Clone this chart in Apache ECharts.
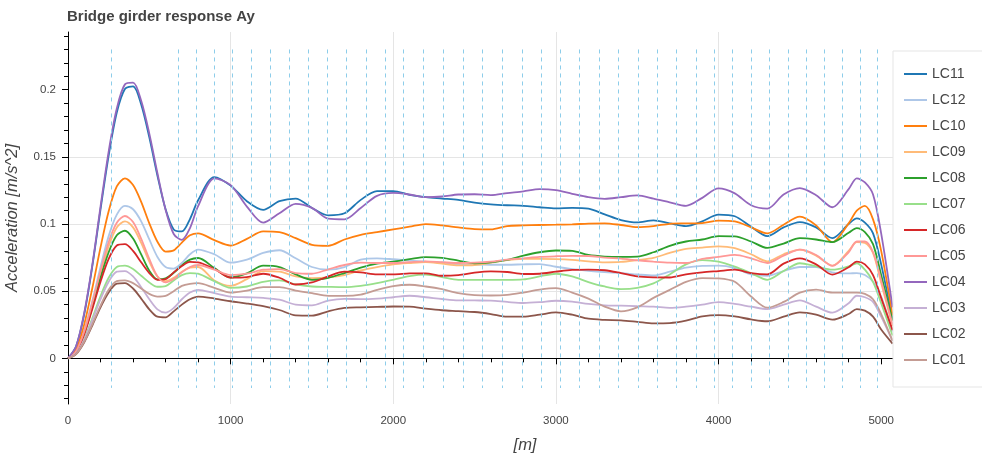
<!DOCTYPE html>
<html>
<head>
    <meta charset="utf-8">
    <title>Bridge girder response Ay</title>
    <script src="https://cdn.jsdelivr.net/npm/echarts@6/dist/echarts.min.js"></script>
    <style>
        html, body {
            margin: 0;
            padding: 0;
            background: #fff;
        }
        #main {
            width: 982px;
            height: 453px;
        }
    </style>
</head>
<body>
<div id="main"></div>
<script>
    // positions along the girder [m]
    let stations = [0, 50, 100, 150, 200, 250, 300, 350, 400, 450, 500, 550, 600, 650, 700, 750, 800,
        900, 1000, 1100, 1200, 1300, 1400, 1500, 1600, 1700, 1800,
        1900, 2000, 2100, 2200, 2300, 2400, 2500, 2600, 2700, 2800,
        2900, 3000, 3100, 3200, 3300, 3400, 3500, 3600, 3700, 3800,
        3900, 4000, 4100, 4200, 4300, 4400, 4500, 4600, 4700, 4800,
        4850, 4900, 4950, 5000, 5070];

    // acceleration envelopes [m/s^2], one list per load case
    let lc11 = [0, .009, .033, .069, .111, .151, .183, .2005, .2025, .189, .1645, .136, .111, .096, .0945, .1037, .1177,
        .135, .1286, .117, .1105, .117, .119, .112, .1065, .108, .118,
        .1245, .1245, .1218, .120, .119, .118, .116, .1147, .114, .1136,
        .1125, .1116, .112, .1115, .1072, .103, .1012, .1027, .1005, .0985,
        .102, .107, .1058, .098, .091, .0975, .1015, .0975, .0895, .100,
        .1042, .101, .093, .070, .029];
    let lc12 = [0, .0055, .0209, .043, .068, .091, .107, .1135, .111, .102, .0885, .0755, .068, .0668, .071, .0775, .081,
        .0775, .0712, .0735, .0785, .0805, .0745, .068, .066, .068, .0735,
        .0745, .0738, .0728, .072, .0714, .070, .0698, .0697, .0697, .070,
        .0702, .0682, .0665, .0652, .0642, .0635, .0625, .0617, .0645, .0675,
        .0688, .069, .0672, .0625, .0615, .065, .068, .068, .064, .0632,
        .0635, .062, .057, .046, .020];
    let lc10 = [0, .0067, .0255, .0526, .0826, .1095, .128, .134, .129, .1165, .1005, .0868, .0795, .0804, .0862, .0916, .093,
        .088, .084, .089, .0945, .094, .0895, .0845, .0838, .0885, .092,
        .094, .096, .098, .100, .099, .0975, .0962, .096, .0985, .099,
        .0993, .0995, .0998, .1003, .1005, .0993, .0977, .0985, .1002, .1005,
        .1007, .1025, .102, .0975, .093, .0995, .1055, .099, .0865, .1005,
        .110, .1135, .1035, .080, .032];
    let lc09 = [0, .0051, .0195, .040, .0625, .0835, .0975, .102, .0975, .086, .072, .061, .0575, .060, .0645, .0675, .068,
        .058, .054, .059, .065, .0645, .061, .0598, .0603, .062, .0655,
        .068, .070, .071, .0717, .0705, .0692, .0695, .0712, .0732, .074,
        .0741, .0739, .0733, .0722, .0715, .0718, .0732, .0748, .0785, .0815,
        .0825, .0833, .082, .0775, .0722, .0775, .081, .0765, .069, .080,
        .0865, .086, .0785, .056, .024];
    let lc08 = [0, .005, .0187, .0384, .060, .079, .0916, .095, .0892, .0774, .0653, .0588, .0596, .0637, .0692, .0735, .0747,
        .0672, .0602, .0633, .069, .068, .0625, .0585, .060, .0635, .0675,
        .0705, .072, .0738, .0754, .0748, .0728, .0708, .0715, .0733, .0765,
        .079, .0803, .080, .077, .0758, .0755, .0757, .079, .0838, .087,
        .0885, .091, .0908, .087, .0822, .0855, .0895, .0885, .0865, .0935,
        .097, .094, .085, .062, .028];
    let lc07 = [0, .004, .0148, .030, .0464, .060, .068, .069, .0665, .0615, .0565, .0533, .0538, .058, .062, .0635, .063,
        .0575, .0525, .0535, .057, .058, .055, .0535, .0532, .053, .054,
        .056, .0585, .0612, .0623, .0605, .0585, .0585, .0585, .0585, .0588,
        .061, .063, .061, .0568, .0535, .0516, .0525, .0558, .0625, .070,
        .0732, .072, .0683, .0635, .0585, .065, .0708, .0685, .066, .0685,
        .0708, .066, .057, .041, .017];
    let lc06 = [0, .0049, .018, .037, .057, .074, .084, .085, .080, .0715, .0635, .0585, .059, .064, .0688, .0718, .0715,
        .0665, .0601, .0605, .063, .060, .055, .0565, .061, .0645, .064,
        .0625, .0625, .0632, .0633, .0615, .062, .0638, .0647, .0643, .0628,
        .063, .0645, .0658, .066, .0656, .0635, .061, .0603, .0602, .0625,
        .064, .065, .066, .0635, .0625, .0705, .0745, .070, .0623, .0678,
        .072, .070, .062, .045, .021];
    let lc05 = [0, .0053, .020, .0415, .065, .0866, .101, .106, .1015, .089, .074, .061, .0565, .059, .064, .068, .0695,
        .066, .062, .063, .066, .0665, .0635, .063, .0663, .0695, .0712,
        .071, .071, .0716, .0722, .0716, .071, .0712, .072, .0735, .0745,
        .0755, .076, .0763, .0762, .075, .0742, .073, .072, .0712, .071,
        .074, .0755, .077, .0745, .071, .0765, .081, .077, .0688, .079,
        .087, .087, .079, .058, .025];
    let lc04 = [0, .009, .034, .070, .113, .154, .186, .204, .2053, .1918, .1673, .1378, .1107, .0926, .0882, .097, .1133,
        .134, .129, .113, .101, .108, .115, .112, .104, .1035, .112,
        .121, .1232, .122, .120, .1205, .122, .1222, .1215, .123, .1243,
        .126, .1252, .1225, .120, .1188, .120, .1213, .119, .1162, .1135,
        .1195, .1265, .1228, .114, .1115, .122, .1268, .1215, .1125, .126,
        .134, .131, .122, .093, .038];
    let lc03 = [0, .0037, .014, .0285, .044, .057, .0645, .065, .061, .053, .044, .0365, .034, .0375, .044, .049, .051,
        .0485, .046, .0455, .045, .0437, .040, .0395, .043, .0443, .0441,
        .0445, .0455, .0466, .0455, .0442, .0432, .0431, .043, .042, .0412,
        .0418, .0429, .0422, .0405, .0395, .0392, .0388, .0385, .0376, .0385,
        .040, .0419, .0405, .0385, .0367, .040, .0432, .0385, .034, .041,
        .0466, .0455, .042, .031, .013];
    let lc02 = [0, .0032, .012, .0246, .038, .049, .0556, .056, .052, .0445, .0365, .031, .0305, .035, .040, .044, .046,
        .0445, .0425, .0408, .0388, .036, .032, .0318, .035, .0375, .038,
        .0383, .0386, .0385, .037, .0358, .0352, .0345, .033, .031, .031,
        .0325, .0342, .0325, .0295, .0286, .0283, .0272, .026, .0262, .028,
        .0312, .0322, .0312, .029, .0276, .031, .0342, .0325, .0288, .033,
        .0367, .0355, .031, .0215, .011];
    let lc01 = [0, .0033, .0125, .0255, .0393, .051, .0575, .058, .056, .052, .048, .046, .0465, .050, .054, .0555, .056,
        .0525, .049, .0505, .053, .053, .0505, .0485, .0465, .0465, .0475,
        .051, .0538, .0548, .0535, .0515, .0485, .047, .0468, .0472, .049,
        .0512, .0523, .049, .0445, .0385, .035, .038, .045, .051, .057,
        .0598, .0595, .057, .046, .0377, .042, .049, .0512, .049, .049,
        .049, .048, .044, .033, .013];

    let caseNames = ["LC11", "LC12", "LC10", "LC09", "LC08", "LC07", "LC06", "LC05", "LC04", "LC03", "LC02", "LC01"];
    let caseValues = [lc11, lc12, lc10, lc09, lc08, lc07, lc06, lc05, lc04, lc03, lc02, lc01];

    // pier / support stations drawn as dashed markers
    let supportStations = [263, 676, 786, 900, 1012, 1127, 1242, 1359, 1478, 1595, 1712, 1831, 1948,
        2063, 2183, 2305, 2428, 2548, 2671, 2791, 2908, 3024, 3146, 3266, 3386, 3506, 3622, 3742,
        3862, 3975, 4086, 4199, 4314, 4430, 4538, 4649, 4760, 4871, 4974];
    let supportTop = 0.23;
    let supportBottom = -0.022;

    // axis ticks
    let yTicks = [0, 0.05, 0.1, 0.15, 0.2];
    let yMinorTicks = [-0.03, -0.02, -0.01, 0.01, 0.02, 0.03, 0.04, 0.06, 0.07, 0.08, 0.09, 0.11, 0.12, 0.13, 0.14,
        0.16, 0.17, 0.18, 0.19, 0.21, 0.22, 0.23, 0.24];
    let xTicks = [0, 1000, 2000, 3000, 4000, 5000];
    let xMinorTicks = [200, 400, 600, 800, 1200, 1400, 1600, 1800, 2200, 2400, 2600, 2800, 3200, 3400, 3600, 3800,
        4200, 4400, 4600, 4800, 5200, 5400, 5600];

    let colors = ["#1f77b4", "#aec7e8", "#ff7f0e", "#ffbb78", "#2ca02c", "#98df8a",
        "#d62728", "#ff9896", "#9467bd", "#c5b0d5", "#8c564b", "#c49c94"];

    let font = "'Liberation Sans', Arial, sans-serif";
    let xMin = 0, xMax = 5620, yMin = -0.034, yMax = 0.243;

    let series = [{
        name: "supports",
        type: "line",
        data: [],
        z: 1,
        silent: true,
        markLine: {
            silent: true,
            symbol: "none",
            animation: false,
            label: {show: false},
            emphasis: {disabled: true},
            lineStyle: {color: "#8dcdea", width: 1, type: [4, 4]},
            data: supportStations.map(function (s) {
                return [{coord: [s, supportTop]}, {coord: [s, supportBottom]}];
            })
        }
    }];
    caseNames.forEach(function (name, k) {
        series.push({
            name: name,
            type: "line",
            smooth: 0.3,
            showSymbol: false,
            z: 3,
            color: colors[k],
            lineStyle: {width: 1.8, color: colors[k]},
            emphasis: {disabled: true},
            data: stations.map(function (s, i) {
                return [s, caseValues[k][i]];
            })
        });
    });

    let chart = echarts.init(document.getElementById('main'));
    chart.setOption({
        animation: false,
        backgroundColor: "#fff",
        textStyle: {fontFamily: font},
        title: {
            text: "Bridge girder response Ay",
            left: 67,
            top: 9,
            padding: 0,
            textStyle: {fontSize: 15, fontWeight: "bold", color: "#444", fontFamily: font}
        },
        grid: {left: 68, right: 0, top: 32, bottom: 49, containLabel: false, outerBoundsMode: "none"},
        legend: {
            data: caseNames,
            orient: "vertical",
            left: 893,
            top: 51,
            padding: [16, 30, 20, 11],
            itemGap: 12,
            itemWidth: 23,
            itemHeight: 2,
            icon: "rect",
            backgroundColor: "#fff",
            borderColor: "#e5e5e5",
            borderWidth: 1,
            selectedMode: false,
            textStyle: {fontSize: 14, color: "#444", fontFamily: font}
        },
        xAxis: [{
            type: "value",
            min: xMin,
            max: xMax,
            name: "[m]",
            nameLocation: "middle",
            nameGap: 33,
            nameTextStyle: {fontSize: 16.5, fontStyle: "italic", color: "#444", fontFamily: font},
            axisLine: {show: true, lineStyle: {color: "#000", width: 1}},
            axisTick: {show: true, length: 6, customValues: xTicks, lineStyle: {color: "#000"}},
            axisLabel: {
                customValues: xTicks, fontSize: 11.5, color: "#444", margin: 11,
                formatter: function (v) { return String(v); }
            },
            splitLine: {show: true, showMinLine: false, showMaxLine: false, lineStyle: {color: "#e5e5e5"}}
        }, {
            type: "value",
            min: xMin,
            max: xMax,
            position: "bottom",
            axisLine: {show: false},
            axisTick: {show: true, length: 4, customValues: xMinorTicks, lineStyle: {color: "#000"}},
            axisLabel: {show: false},
            splitLine: {show: false}
        }],
        yAxis: [{
            type: "value",
            min: yMin,
            max: yMax,
            position: "left",
            name: "Acceleration [m/s^2]",
            nameLocation: "middle",
            nameGap: 47,
            nameTextStyle: {fontSize: 16.5, fontStyle: "italic", color: "#444", fontFamily: font},
            axisLine: {show: true, lineStyle: {color: "#000", width: 1}},
            axisTick: {show: true, length: 6, customValues: yTicks, lineStyle: {color: "#000"}},
            axisLabel: {customValues: yTicks, fontSize: 11.5, color: "#444", margin: 12},
            splitLine: {show: true, showMinLine: false, showMaxLine: false, lineStyle: {color: "#e5e5e5"}}
        }, {
            type: "value",
            min: yMin,
            max: yMax,
            position: "left",
            axisLine: {show: false},
            axisTick: {show: true, length: 4, customValues: yMinorTicks, lineStyle: {color: "#000"}},
            axisLabel: {show: false},
            splitLine: {show: false}
        }],
        series: series
    });
</script>
</body>
</html>
